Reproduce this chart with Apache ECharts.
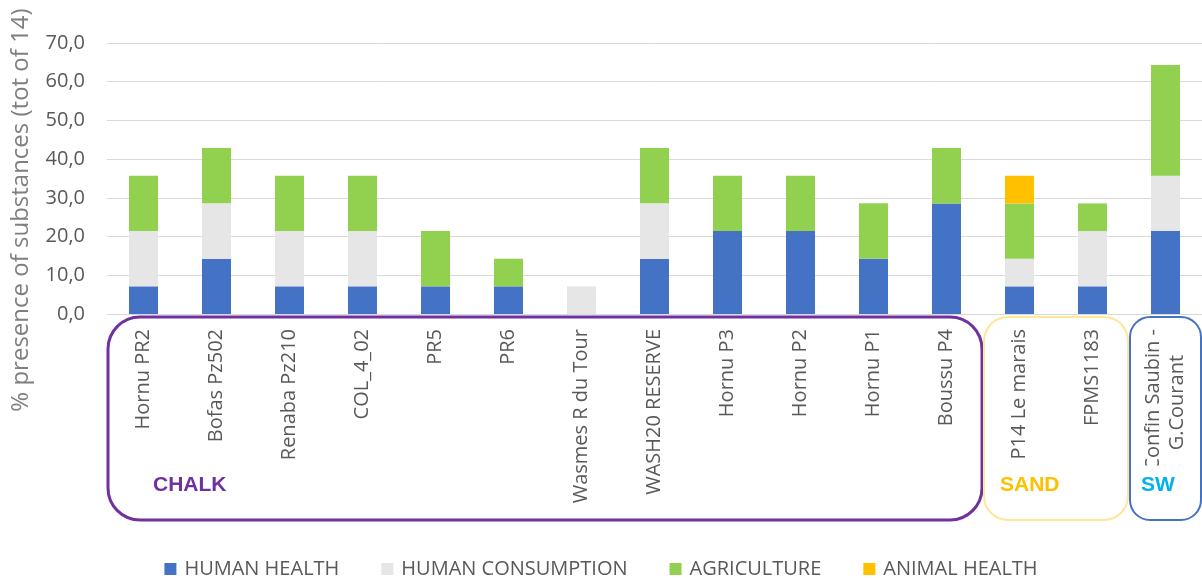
<!DOCTYPE html>
<html>
<head>
<meta charset="utf-8">
<script src="https://cdn.jsdelivr.net/npm/echarts@6/dist/echarts.min.js"></script>
<style>
	html, body { margin: 0; padding: 0; background: #fff; }
	#chart { width: 1202px; height: 578px; }
</style>
</head>
<body>
<div id="chart"></div>
<script>
// data (% of the 14 substances)
var categories = ['Hornu PR2', 'Bofas Pz502', 'Renaba Pz210', 'COL_4_02', 'PR5', 'PR6', 'Wasmes R du Tour',
	'WASH20 RESERVE', 'Hornu P3', 'Hornu P2', 'Hornu P1', 'Boussu P4', 'P14 Le marais', 'FPMS1183',
	'Confin Saubin -\nG.Courant\u00a0\u00a0\u00a0\u00a0\u00a0'];
var humanHealth      = [7.14, 14.29, 7.14, 7.14, 7.14, 7.14, 0, 14.29, 21.43, 21.43, 14.29, 28.57, 7.14, 7.14, 21.43];
var humanConsumption = [14.29, 14.29, 14.29, 14.29, 0, 0, 7.14, 14.29, 0, 0, 0, 0, 7.14, 14.29, 14.29];
var agriculture      = [14.29, 14.29, 14.29, 14.29, 14.29, 7.14, 0, 14.29, 14.29, 14.29, 14.29, 14.29, 14.29, 7.14, 28.57];
var animalHealth     = [0, 0, 0, 0, 0, 0, 0, 0, 0, 0, 0, 0, 7.14, 0, 0];
var seriesNames = ['HUMAN HEALTH', 'HUMAN CONSUMPTION', 'AGRICULTURE', 'ANIMAL HEALTH'];
var yTicks = [0, 10, 20, 30, 40, 50, 60, 70];
var groupNames = ['CHALK', 'SAND', 'SW'];
var groupFirst = [0, 12, 14];
var groupLast  = [11, 13, 14];

var colors = ['#4472C4', '#E7E6E6', '#92D050', '#FFC000'];
var groupStroke = ['#7030A0', '#FFE699', '#4472C4'];
var groupText = ['#7030A0', '#FFC000', '#00B0F0'];

var FONT = '"Open Sans", "Liberation Sans", Arial, sans-serif';

var chartDom = document.getElementById('chart');
var myChart = echarts.init(chartDom);

function mkbar(name, data, color) {
	return {
		name: name,
		type: 'bar',
		stack: 'total',
		data: data,
		barWidth: 29,
		itemStyle: { color: color },
		emphasis: { disabled: true }
	};
}

var option = {
	animation: false,
	color: colors,
	grid: { left: 107, right: -6, top: 43, bottom: 264, containLabel: false },
	legend: {
		data: seriesNames,
		top: 554,
		left: 'center',
		itemWidth: 12,
		itemHeight: 12,
		itemGap: 42,
		icon: 'rect',
		textStyle: { color: '#595959', fontSize: 20, fontFamily: FONT, padding: [0, 0, 0, 3] }
	},
	xAxis: {
		type: 'category',
		data: categories,
		axisLine: { lineStyle: { color: '#D9D9D9', width: 1 } },
		axisTick: { show: false },
		axisLabel: {
			interval: 0,
			rotate: 90,
			margin: 15,
			color: '#595959',
			fontSize: 20,
			lineHeight: 24,
			fontFamily: FONT
		}
	},
	yAxis: {
		type: 'value',
		min: yTicks[0],
		max: yTicks[yTicks.length - 1],
		interval: 10,
		axisLine: { show: false },
		axisTick: { show: false },
		splitLine: { lineStyle: { color: '#D9D9D9', width: 1 } },
		axisLabel: {
			margin: 22,
			color: '#595959',
			fontSize: 20,
			fontFamily: FONT,
			formatter: function (v) { return v.toFixed(1).replace('.', ','); }
		}
	},
	series: [
		mkbar(seriesNames[0], humanHealth, colors[0]),
		mkbar(seriesNames[1], humanConsumption, colors[1]),
		mkbar(seriesNames[2], agriculture, colors[2]),
		mkbar(seriesNames[3], animalHealth, colors[3])
	]
};
myChart.setOption(option);

// group boxes under the axis, placed from the category scale
function draw_groups() {
	var c0 = myChart.convertToPixel({ xAxisIndex: 0 }, 0);
	var c1 = myChart.convertToPixel({ xAxisIndex: 0 }, 1);
	var band = c1 - c0;
	var y0 = myChart.convertToPixel({ yAxisIndex: 0 }, 0);
	var top = y0 + 3;
	var height = 203;
	var radius = [32, 24, 20];
	var lw = [3, 2, 2];
	var labelDx = [46, 17, 2];
	var labelBg = [null, null, '#fff'];
	var labelPad = [0, 0, [10, 40, 8, 10]];
	var elements = [];
	for (var i = 0; i < groupNames.length; i++) {
		var xl = myChart.convertToPixel({ xAxisIndex: 0 }, groupFirst[i]) - band / 2;
		var xr = myChart.convertToPixel({ xAxisIndex: 0 }, groupLast[i]) + band / 2;
		elements.push({
			type: 'text',
			x: xl + labelDx[i],
			y: top + 168,
			style: {
				text: groupNames[i],
				fill: groupText[i],
				font: 'bold 21px "Liberation Sans", Arial, sans-serif',
				verticalAlign: 'middle',
				backgroundColor: labelBg[i],
				padding: labelPad[i]
			},
			z: 10
		});
		elements.push({
			type: 'rect',
			shape: { x: xl + 1, y: top, width: xr - xl - 2, height: height, r: radius[i] },
			style: { fill: 'none', stroke: groupStroke[i], lineWidth: lw[i] },
			z: 11
		});
	}
	elements.push({
		type: 'text',
		x: 21,
		y: 210,
		rotation: Math.PI / 2,
		style: {
			text: '% presence of substances (tot of 14)',
			fill: '#7F7F7F',
			font: '24px ' + FONT,
			align: 'center',
			verticalAlign: 'middle'
		}
	});
	myChart.setOption({ graphic: { elements: elements } });
}
draw_groups();
</script>
</body>
</html>
